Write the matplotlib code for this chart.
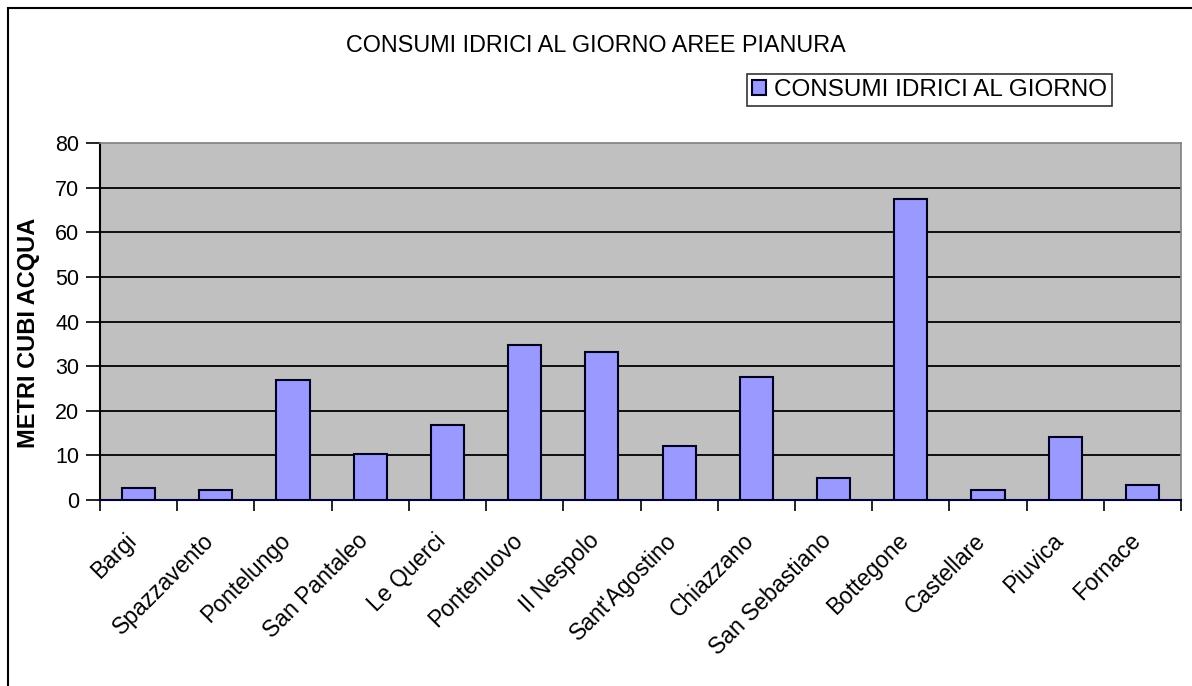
import matplotlib.pyplot as plt
from matplotlib.patches import Rectangle
import numpy as np

plt.rcParams['font.family'] = ['Liberation Sans', 'DejaVu Sans']

# daily water consumption per locality (m3)
localita = ["Bargi", "Spazzavento", "Pontelungo", "San Pantaleo", "Le Querci",
            "Pontenuovo", "Il Nespolo", "Sant'Agostino", "Chiazzano",
            "San Sebastiano", "Bottegone", "Castellare", "Piuvica", "Fornace"]
consumi = [2.7, 2.3, 26.8, 10.3, 16.8, 34.7, 33.2, 12.2, 27.5, 5.0, 67.4, 2.3, 14.2, 3.4]
y_ticks = [0, 10, 20, 30, 40, 50, 60, 70, 80]

fig = plt.figure(figsize=(11.92, 6.86), dpi=100)
ax = fig.add_axes([100/1192, 1 - 500/686, 1081/1192, 357/686])

n = len(localita)
x = np.arange(n) + 0.5
ax.set_facecolor('#c0c0c0')
ax.bar(x, consumi, width=0.43, color='#9999ff', edgecolor='#000020',
       linewidth=1.5, zorder=3, label='CONSUMI IDRICI AL GIORNO')

ax.set_xlim(0, n)
ax.set_ylim(0, 80)
ax.set_yticks(y_ticks)
for v in y_ticks[1:-1]:
    ax.axhline(v, color='black', linewidth=1.3, zorder=1)

# ticks sit between categories, names under the bars
ax.set_xticks(np.arange(n + 1))
ax.set_xticklabels([])
ax.set_xticks(x - 0.18, minor=True)
ax.set_xticklabels(localita, minor=True, rotation=45, ha='right',
                   rotation_mode='anchor', fontsize=16.5)
ax.tick_params(axis='x', which='major', length=8, width=1.2, color='black')
ax.tick_params(axis='x', which='minor', length=0, pad=21)
ax.tick_params(axis='y', length=10, width=1.2, labelsize=15.5, pad=5)

for s in ['top', 'right']:
    ax.spines[s].set_color('#808080')
    ax.spines[s].set_linewidth(1.2)
ax.spines['left'].set_color('black')
ax.spines['left'].set_linewidth(1.5)
ax.spines['bottom'].set_color('#000040')
ax.spines['bottom'].set_linewidth(1.5)

ax.set_ylabel('METRI CUBI ACQUA', fontsize=17, fontweight='bold')
ax.yaxis.set_label_coords(-60/1081, 0.468)

fig.text(0.5, 1 - 45/686, 'CONSUMI IDRICI AL GIORNO AREE PIANURA',
         ha='center', va='center', fontsize=16.8)

leg = fig.legend(loc='upper right', bbox_to_anchor=(1112/1192, 1 - 74/686),
                 borderaxespad=0, fontsize=17.5, frameon=True, fancybox=False,
                 handlelength=0.55, handleheight=0.55, handletextpad=0.35,
                 borderpad=0.2)
leg.get_frame().set_edgecolor('black')
leg.get_frame().set_linewidth(1.2)

# outer chart frame
fig.patches.append(Rectangle((8/1192, -0.05), 1.2, 1 - 8/686 + 0.05,
                             transform=fig.transFigure, fill=False,
                             edgecolor='black', linewidth=1.5))

fig.savefig('out.png', dpi=100)
